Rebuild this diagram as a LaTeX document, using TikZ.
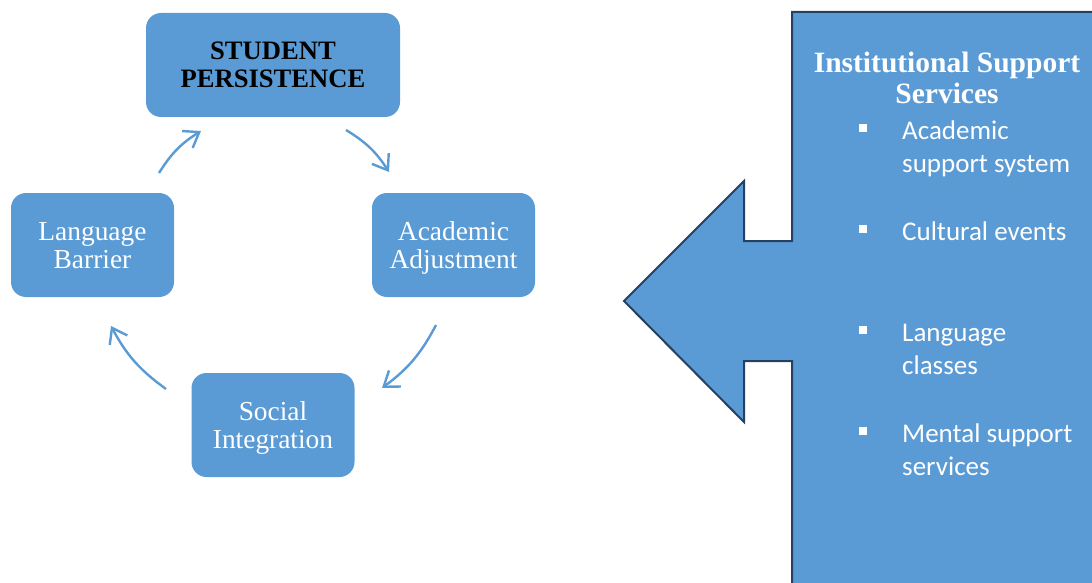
\documentclass[tikz,border=0pt]{standalone}
\usepackage{fontspec}
\setmainfont{Liberation Serif}
\newfontfamily\calibri{Carlito}
\usetikzlibrary{arrows.meta}
\definecolor{boxblue}{RGB}{91,155,213}
\definecolor{edgenavy}{RGB}{37,64,97}

\begin{document}
\begin{tikzpicture}[x=1pt,y=1pt,
  stage/.style={fill=boxblue, rounded corners=15pt, minimum width=163pt, minimum height=104pt,
    inner sep=0pt, text=white, align=center, text height=46pt, text depth=0pt,
    font=\fontsize{27.4}{28}\selectfont},
  cyc/.style={draw=boxblue, line width=2.4pt, bend left=13,
    -{Straight Barb[length=14pt,width=20pt]}},
  entry/.style={anchor=base west, align=left, inner sep=0pt, text=white,
    font=\calibri\fontsize{27}{33}\selectfont},
  sqmark/.style={fill=white, minimum size=8pt, inner sep=0pt}]
\useasboundingbox (0,0) rectangle (1092,-583);
\clip (0,0) rectangle (1092,-583);

% the four stages
\node[stage, minimum width=254pt, text=black, font=\bfseries\fontsize{26.6}{28}\selectfont] (sp) at (273,-65) {STUDENT\\PERSISTENCE};
\node[stage] (aa) at (453.5,-245) {Academic\\Adjustment};
\node[stage] (si) at (273,-425) {Social\\Integration};
\node[stage] (lb) at (92.5,-245) {Language\\Barrier};

% ends of the cycle arrows
\coordinate (lb-out) at (159,-173);
\coordinate (sp-in) at (201,-131);
\coordinate (sp-out) at (346,-130);
\coordinate (aa-in) at (389,-172);
\coordinate (aa-out) at (436,-325);
\coordinate (si-in) at (382,-388);
\coordinate (si-out) at (166,-389);
\coordinate (lb-in) at (111,-326);

\draw[cyc] (lb-out) to (sp-in);
\draw[cyc] (sp-out) to (aa-in);
\draw[cyc] (aa-out) to (si-in);
\draw[cyc] (si-out) to (lb-in);

% support block pointing left
\draw[fill=boxblue, draw=edgenavy, line width=2pt]
  (792,-12) -- (1100,-12) -- (1100,-600) -- (792,-600) -- (792,-361)
  -- (744,-361) -- (744,-422) -- (624,-301) -- (744,-181) -- (744,-241)
  -- (792,-241) -- cycle;

\node[anchor=base, align=center, inner sep=0pt, text=white,
  font=\bfseries\fontsize{29.5}{32}\selectfont] (head) at (947,-104) {Institutional Support\\Services};

% bullet row: first baseline / last baseline / text
\foreach \y/\z/\txt [count=\i] in {139/172/{Academic\\support system}, 240/240/{Cultural events},
    341/374/{Language\\classes}, 442/475/{Mental support\\services}} {
  \node[sqmark] (m\i) at (863,-\y+11) {};
  \node[entry] (e\i) at (902,-\z) {\txt};
}
\end{tikzpicture}
\end{document}
